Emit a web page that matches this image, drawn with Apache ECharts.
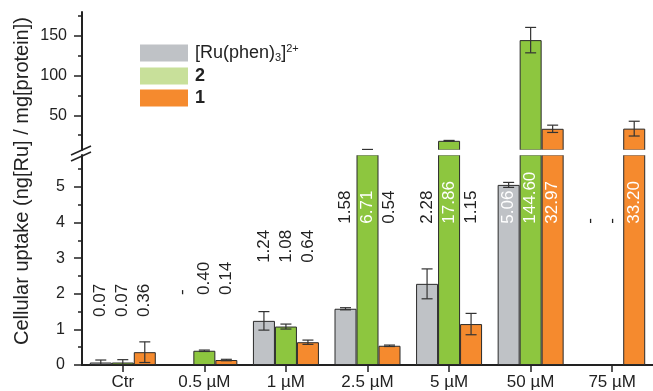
<!DOCTYPE html>
<html><head><meta charset="utf-8">
<script src="https://cdn.jsdelivr.net/npm/echarts@6/dist/echarts.min.js"></script>
<style>html,body{margin:0;padding:0;background:#fff}#c{width:653px;height:391px}</style>
</head><body><div id="c"></div>
<script>
// ---- data ----
const categories = ['Ctr', '0.5 µM', '1 µM', '2.5 µM', '5 µM', '50 µM', '75 µM'];
const seriesNames = ['[Ru(phen)3]2+', '2', '1'];
const ruPhen = [0.07, null, 1.24, 1.58, 2.28, 5.06, null];
const cmpd2  = [0.07, 0.40, 1.08, 6.71, 17.86, 144.60, null];
const cmpd1  = [0.36, 0.14, 0.64, 0.54, 1.15, 32.97, 33.20];
const ruPhenErr = [0.07, null, 0.26, 0.03, 0.42, 0.07, null];
const cmpd2Err  = [0.08, 0.02, 0.07, 0.30, 0.50, 16.0, null];
const cmpd1Err  = [0.29, 0.02, 0.06, 0.02, 0.30, 4.6, 9.3];
const labelLevel = [1.35, 1.97, 2.87, 3.97, 3.97, 3.97, 3.97]; // axis units where value labels start
const lowerTicks = [0, 1, 2, 3, 4, 5];
const lowerMinor = [0.5, 1.5, 2.5, 3.5, 4.5, 5.5];
const upperTicks = [50, 100, 150];
const upperMinor = [25, 75, 125, 175];

// ---- styling ----
const FONT = '"Liberation Sans", Arial, sans-serif';
const BAR_W = 22;
const LOWER_MAX = 5.9, UPPER_MIN = 6.3, UPPER_MAX = 180;
const barColors = ['#bfc2c6', '#8dc63f', '#f58a2e'];
const legendColors = ['#bfc2c6', '#c8e09a', '#f58a2e'];
const values = [ruPhen, cmpd2, cmpd1];
const errs = [ruPhenErr, cmpd2Err, cmpd1Err];
const AX = '#222';

const fmt = v => v == null ? '-' : v.toFixed(2);

const series = [];
values.forEach((vals, k) => {
  series.push({
    name: seriesNames[k], type: 'bar', xAxisIndex: 0, yAxisIndex: 0,
    barWidth: BAR_W, barGap: '0%', clip: true, silent: true,
    itemStyle: { color: barColors[k], borderColor: '#2a2a2a', borderWidth: 1 },
    data: vals
  });
});
values.forEach((vals, k) => {
  series.push({
    name: seriesNames[k], type: 'bar', xAxisIndex: 1, yAxisIndex: 2,
    barWidth: BAR_W, barGap: '0%', clip: true, silent: true,
    itemStyle: { color: barColors[k], borderColor: '#2a2a2a', borderWidth: 1 },
    data: vals.map(v => (v != null && v > UPPER_MIN) ? v : null)
  });
});
// value labels (transparent carrier bars)
values.forEach((vals, k) => {
  series.push({
    type: 'bar', xAxisIndex: 2, yAxisIndex: 0, silent: true, z: 6,
    barWidth: BAR_W, barGap: '0%',
    itemStyle: { color: 'rgba(0,0,0,0)', borderWidth: 0 },
    label: {
      show: true, position: 'top', distance: 0, rotate: 90,
      align: 'left', verticalAlign: 'middle',
      fontFamily: FONT, fontSize: 17,
      formatter: p => fmt(vals[p.dataIndex])
    },
    data: labelLevel.map((lv, i) => ({
      value: lv,
      label: { color: (vals[i] != null && vals[i] >= 5) ? '#ffffff' : '#222' }
    }))
  });
});
// error bars
function errRender(params, api) {
  const i = api.value(0), lo = api.value(1), hi = api.value(2), k = api.value(3);
  const pLo = api.coord([i, lo]), pHi = api.coord([i, hi]);
  const x = pLo[0] + (k - 1) * BAR_W;
  const cap = 5.5;
  const st = { stroke: '#333', lineWidth: 1.2 };
  return { type: 'group', children: [
    { type: 'line', shape: { x1: x, y1: pLo[1], x2: x, y2: pHi[1] }, style: st },
    { type: 'line', shape: { x1: x - cap, y1: pHi[1], x2: x + cap, y2: pHi[1] }, style: st },
    { type: 'line', shape: { x1: x - cap, y1: pLo[1], x2: x + cap, y2: pLo[1] }, style: st }
  ]};
}
const errLower = [], errUpper = [];
values.forEach((vals, k) => vals.forEach((v, i) => {
  const e = errs[k][i];
  if (v == null || e == null) return;
  const item = [i, v - e, v + e, k];
  if (v <= LOWER_MAX) errLower.push(item); else errUpper.push(item);
}));
series.push({ type: 'custom', xAxisIndex: 0, yAxisIndex: 0, renderItem: errRender, data: errLower, clip: true, silent: true, z: 5, encode: { x: 0, y: [1, 2] } });
series.push({ type: 'custom', xAxisIndex: 1, yAxisIndex: 2, renderItem: errRender, data: errUpper, clip: true, silent: true, z: 5, encode: { x: 0, y: [1, 2] } });

const option = {
  animation: false,
  backgroundColor: '#fff',
  grid: [
    { left: 82, width: 575, top: 155, height: 210 },
    { left: 82, width: 575, top: 12, height: 138 }
  ],
  xAxis: [
    { type: 'category', gridIndex: 0, data: categories,
      axisLine: { show: true, lineStyle: { color: AX, width: 2 } },
      axisTick: { show: true, alignWithLabel: true, length: 7, inside: false, lineStyle: { color: AX, width: 1.5 } },
      axisLabel: { color: '#222', fontFamily: FONT, fontSize: 17, margin: 9 },
      splitLine: { show: false } },
    { type: 'category', gridIndex: 1, data: categories, show: false },
    { type: 'category', gridIndex: 0, data: categories, show: false }
  ],
  yAxis: [
    { type: 'value', gridIndex: 0, min: 0, max: LOWER_MAX, position: 'left', offset: 0,
      axisLine: { show: true, onZero: false, lineStyle: { color: AX, width: 2 } },
      axisTick: { show: true, customValues: lowerTicks, length: 8, lineStyle: { color: AX, width: 1.5 } },
      axisLabel: { customValues: lowerTicks, color: '#222', fontFamily: FONT, fontSize: 16, margin: 17 },
      splitLine: { show: false } },
    { type: 'value', gridIndex: 0, min: 0, max: LOWER_MAX, position: 'left', offset: 0,
      axisLine: { show: false },
      axisTick: { show: true, customValues: lowerMinor, length: 4, lineStyle: { color: AX, width: 1.5 } },
      axisLabel: { show: false }, splitLine: { show: false } },
    { type: 'value', gridIndex: 1, min: UPPER_MIN, max: UPPER_MAX, position: 'left', offset: 0,
      axisLine: { show: true, onZero: false, lineStyle: { color: AX, width: 2 } },
      axisTick: { show: true, customValues: upperTicks, length: 8, lineStyle: { color: AX, width: 1.5 } },
      axisLabel: { customValues: upperTicks, color: '#222', fontFamily: FONT, fontSize: 16, margin: 15 },
      splitLine: { show: false } },
    { type: 'value', gridIndex: 1, min: UPPER_MIN, max: UPPER_MAX, position: 'left', offset: 0,
      axisLine: { show: false },
      axisTick: { show: true, customValues: upperMinor, length: 4, lineStyle: { color: AX, width: 1.5 } },
      axisLabel: { show: false }, splitLine: { show: false } }
  ],
  legend: {
    orient: 'vertical', left: 140, top: 43, padding: 0, itemWidth: 48, itemHeight: 17, itemGap: 4,
    selectedMode: false,
    data: seriesNames.map((n, k) => ({ name: n, icon: 'rect', itemStyle: { color: legendColors[k], borderWidth: 0 } })),
    formatter: n => n === seriesNames[0] ? '{n|[Ru(phen)}{sub|3}{n|]}{sup|2+}' : '{b|' + n + '}',
    textStyle: {
      fontFamily: FONT, fontSize: 18, color: '#222', padding: [0, 0, 0, 2],
      rich: {
        n: { fontFamily: FONT, fontSize: 18, color: '#222', lineHeight: 20 },
        sub: { fontFamily: FONT, fontSize: 11, color: '#222', verticalAlign: 'bottom', lineHeight: 20, padding: [8, 0, 0, 0] },
        sup: { fontFamily: FONT, fontSize: 11, color: '#222', verticalAlign: 'top', lineHeight: 20 },
        b: { fontFamily: FONT, fontSize: 18, fontWeight: 'bold', color: '#222', lineHeight: 20 }
      }
    }
  },
  graphic: [
    { type: 'text', x: 22, y: 181, rotation: Math.PI / 2,
      style: { text: 'Cellular uptake (ng[Ru] / mg[protein])', fontFamily: FONT, fontSize: 20, fill: '#222', align: 'center', verticalAlign: 'middle' } },
    { type: 'rect', shape: { x: 83, y: 149.8, width: 580, height: 5.4 }, style: { fill: '#ffffff' }, z: 4 },
    { type: 'line', shape: { x1: 71, y1: 155, x2: 91, y2: 146 }, style: { stroke: AX, lineWidth: 1.5 }, z: 100 },
    { type: 'line', shape: { x1: 71, y1: 161, x2: 91, y2: 152 }, style: { stroke: AX, lineWidth: 1.5 }, z: 100 }
  ],
  series: series
};
const chart = echarts.init(document.getElementById('c'), null, { renderer: 'canvas' });
chart.setOption(option);
</script>
</body></html>
